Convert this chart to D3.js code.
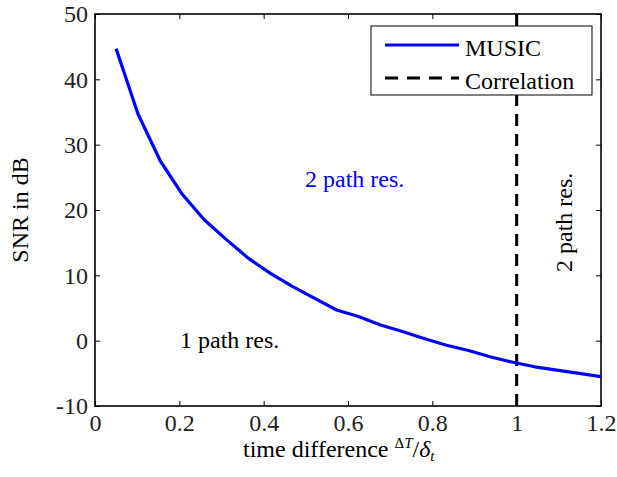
<!DOCTYPE html>
<html>
<head>
<meta charset="utf-8">
<script src="https://cdn.jsdelivr.net/npm/d3@7"></script>
<style>
  body { margin: 0; background: #fff; }
  svg { display: block; }
  text { font-family: "Liberation Serif", "Times New Roman", serif; }
</style>
</head>
<body>
<svg width="617" height="477"></svg>
<script>
// values
var timeDiff = [0.05, 0.102, 0.155, 0.207, 0.259, 0.311, 0.364, 0.416, 0.468, 0.52, 0.573, 0.625,
                0.677, 0.729, 0.782, 0.834, 0.886, 0.939, 0.991, 1.043, 1.095, 1.148, 1.2];
var snrMusic = [44.7, 34.7, 27.5, 22.4, 18.5, 15.5, 12.6, 10.3, 8.3, 6.5, 4.7, 3.7,
                2.4, 1.4, 0.3, -0.7, -1.5, -2.5, -3.3, -4.0, -4.5, -5.0, -5.5];
var correlationX = [1, 1];
var correlationY = [-10, 50];
var xTicks = [0, 0.2, 0.4, 0.6, 0.8, 1, 1.2];
var yTicks = [-10, 0, 10, 20, 30, 40, 50];
var legendNames = ['MUSIC', 'Correlation'];

var svg = d3.select('svg');

var ScaleX = d3.scaleLinear().domain([0, 1.2]).range([95, 601]);
var ScaleY = d3.scaleLinear().domain([-10, 50]).range([406, 14]);

var fmt = function(d){ return String(d); };
var fs = 24;

// bottom axis with labels
var axBottom = svg.append('g')
    .attr('transform', 'translate(0,406)')
    .call(d3.axisBottom(ScaleX).tickValues(xTicks).tickFormat(fmt).tickSizeInner(-5).tickSizeOuter(0));
// top axis, ticks only
var axTop = svg.append('g')
    .attr('transform', 'translate(0,14)')
    .call(d3.axisTop(ScaleX).tickValues(xTicks).tickFormat('').tickSizeInner(-5).tickSizeOuter(0));
var axLeft = svg.append('g')
    .attr('transform', 'translate(95,0)')
    .call(d3.axisLeft(ScaleY).tickValues(yTicks).tickFormat(fmt).tickSizeInner(-5).tickSizeOuter(0));
var axRight = svg.append('g')
    .attr('transform', 'translate(601,0)')
    .call(d3.axisRight(ScaleY).tickValues(yTicks).tickFormat('').tickSizeInner(-5).tickSizeOuter(0));

[axBottom, axTop, axLeft, axRight].forEach(function(g){
    g.select('.domain').remove();
    g.selectAll('line').attr('stroke', '#000').attr('stroke-width', 1);
});

axBottom.selectAll('text')
    .attr('y', 25).attr('dy', 0)
    .attr('font-size', fs).attr('fill', '#222')
    .style('font-family', '"Liberation Serif", serif');
axLeft.selectAll('text')
    .attr('x', -7)
    .attr('font-size', fs).attr('fill', '#222')
    .style('font-family', '"Liberation Serif", serif');

// box
svg.append('rect')
    .attr('x', ScaleX(0)).attr('y', ScaleY(50))
    .attr('width', ScaleX(1.2) - ScaleX(0))
    .attr('height', ScaleY(-10) - ScaleY(50))
    .attr('fill', 'none').attr('stroke', '#000').attr('stroke-width', 1.6);

// correlation line
var line = d3.line()
    .x(function(d){ return ScaleX(d[0]); })
    .y(function(d){ return ScaleY(d[1]); });

svg.append('path')
    .datum(d3.zip(correlationX, correlationY))
    .attr('d', line)
    .attr('fill', 'none').attr('stroke', '#000')
    .attr('stroke-width', 3).attr('stroke-dasharray', '12,8');

// MUSIC line
svg.append('path')
    .datum(d3.zip(timeDiff, snrMusic))
    .attr('d', line)
    .attr('fill', 'none').attr('stroke', '#0000ff')
    .attr('stroke-width', 3.2).attr('stroke-linejoin', 'round');

// annotations
svg.append('text')
    .attr('x', 305).attr('y', 187)
    .attr('font-size', fs).attr('fill', '#0000ff')
    .text('2 path res.');
svg.append('text')
    .attr('x', 180).attr('y', 348)
    .attr('font-size', fs).attr('fill', '#000')
    .text('1 path res.');
svg.append('text')
    .attr('transform', 'translate(572,272) rotate(-90)')
    .attr('font-size', fs).attr('fill', '#000')
    .text('2 path res.');

// legend
var legend = svg.append('g');
legend.append('rect')
    .attr('x', 371).attr('y', 26).attr('width', 221).attr('height', 69)
    .attr('fill', '#fff').attr('stroke', '#000').attr('stroke-width', 1);
var legStyles = [{ c: '#0000ff', dash: null, w: 3 }, { c: '#000', dash: '13,9', w: 3 }];
legendNames.forEach(function(name, i){
    var cy = 45 + i * 33;
    legend.append('line')
        .attr('x1', 385).attr('x2', 459).attr('y1', cy).attr('y2', cy)
        .attr('stroke', legStyles[i].c).attr('stroke-width', legStyles[i].w)
        .attr('stroke-dasharray', legStyles[i].dash);
    legend.append('text')
        .attr('x', 465).attr('y', cy + 11)
        .attr('font-size', fs).attr('fill', '#000')
        .text(name);
});

// axis titles
var xt = svg.append('text')
    .attr('x', 243).attr('y', 457)
    .attr('font-size', fs).attr('fill', '#000');
xt.append('tspan').text('time difference ');
xt.append('tspan').attr('font-size', 15).attr('dy', -9).text('\u0394');
xt.append('tspan').attr('font-size', 15).attr('font-style', 'italic').text('T');
xt.append('tspan').attr('dy', 9).text('/');
xt.append('tspan').attr('font-style', 'italic').text('\u03b4');
xt.append('tspan').attr('font-size', 15).attr('font-style', 'italic').attr('dy', 4).text('t');

svg.append('text')
    .attr('transform', 'translate(28,210) rotate(-90)')
    .attr('text-anchor', 'middle')
    .attr('font-size', fs).attr('fill', '#000')
    .text('SNR in dB');
</script>
</body>
</html>
